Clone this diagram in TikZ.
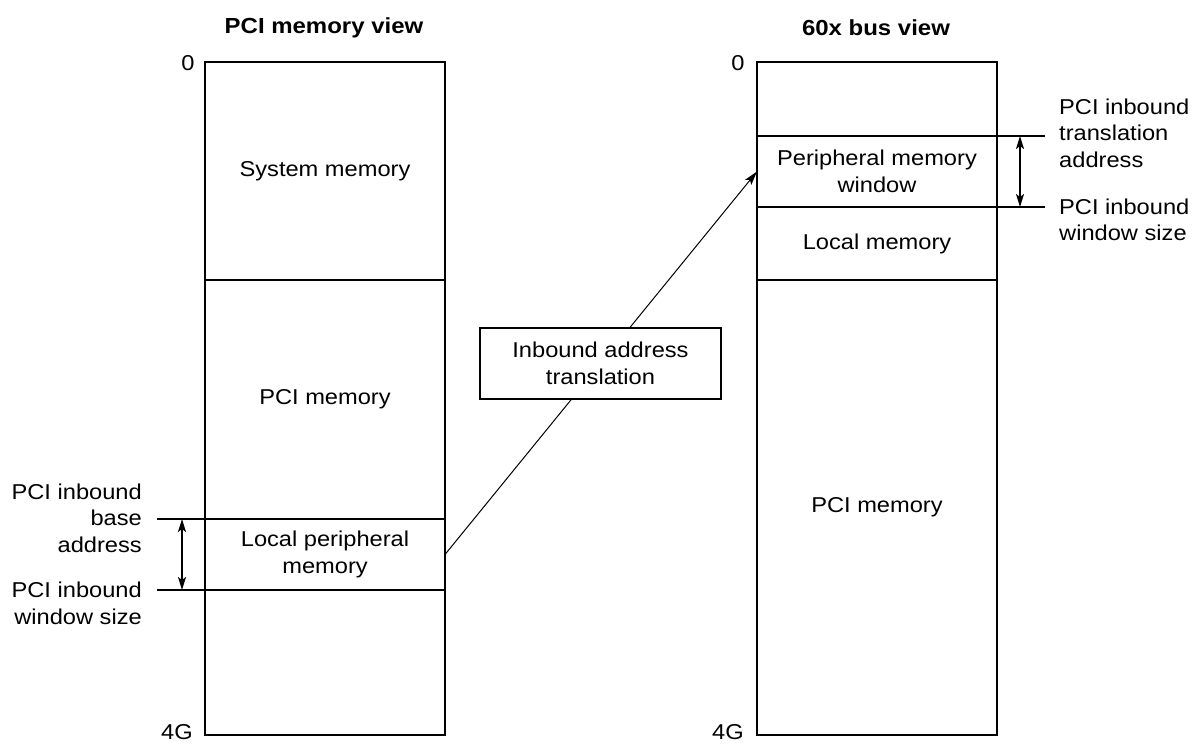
\documentclass[tikz,border=0pt]{standalone}
\usepackage{fontspec}
\setmainfont{Liberation Sans}[FakeStretch=1.1]
\usetikzlibrary{arrows.meta}
\begin{document}
\begin{tikzpicture}[x=1pt,y=-1pt,
  txt/.style={font=\fontsize{21.5}{26.5}\selectfont, inner sep=0pt, align=center},
  ttl/.style={font=\fontsize{21.8}{26.5}\selectfont\bfseries, inner sep=0pt},
  region/.style={draw, line width=2pt, minimum width=240pt, inner sep=0pt, outer sep=0pt, font=\fontsize{21.5}{26.5}\selectfont, align=center},
  tick/.style={line width=2pt},
  dbl/.style={line width=1.8pt, {Stealth[length=13pt,width=8pt,inset=3pt]}-{Stealth[length=13pt,width=8pt,inset=3pt]}},
  conn/.style={line width=1pt, -{Stealth[length=14pt,width=8pt,inset=3pt]}}
]
\useasboundingbox (0,0) rectangle (1193,744);

% titles
\node[ttl] (t1) at (324,28) {PCI memory view};
\node[ttl] (t2) at (876,28) {60x bus view};

% left column
\node[region, minimum height=218pt] (sys) at (325,171) {System memory};
\node[region, minimum height=239pt] (pci1) at (325,399.5) {PCI memory};
\node[region, minimum height=71pt] (lpm) at (325,554.5) {Local peripheral\\memory};
\node[region, minimum height=145pt] (lbot) at (325,662.5) {};

% right column
\node[region, minimum height=74pt] (rtop) at (877,99) {};
\node[region, minimum height=71pt] (pmw) at (877,171.5) {Peripheral memory\\window};
\node[region, minimum height=73pt] (lm) at (877,243.5) {Local memory};
\node[region, minimum height=455pt] (pci2) at (877,507.5) {PCI memory};

% address labels
\node[txt] (z1) at (188,63) {0};
\node[txt] (z2) at (738,63) {0};
\node[txt] (g1) at (177,732) {4G};
\node[txt] (g2) at (728,732) {4G};

% left ticks and labels
\coordinate (la) at (157,519);
\coordinate (lb) at (157,590);
\draw[tick] (la) -- (lpm.north west);
\draw[tick] (lb) -- (lpm.south west);
\coordinate (laa) at (182,519);
\coordinate (lbb) at (182,590);
\draw[dbl] (laa) -- (lbb);
\node[txt, align=right, anchor=east] (lbl1) at (142,518) {PCI inbound\\base\\address};
\node[txt, align=right, anchor=east] (lbl2) at (142,603.5) {PCI inbound\\window size};

% right ticks and labels
\coordinate (ra) at (1045,136);
\coordinate (rb) at (1045,207);
\draw[tick] (pmw.north east) -- (ra);
\draw[tick] (pmw.south east) -- (rb);
\coordinate (raa) at (1020,136);
\coordinate (rbb) at (1020,207);
\draw[dbl] (raa) -- (rbb);
\node[txt, align=left, anchor=west] (rbl1) at (1059,133) {PCI inbound\\translation\\address};
\node[txt, align=left, anchor=west] (rbl2) at (1059,220) {PCI inbound\\window size};

% connector
\draw[conn] (lpm.east) -- (pmw.west);

% translation box
\node[draw, fill=white, line width=2pt, minimum width=241pt, minimum height=71pt, inner sep=0pt,
  font=\fontsize{21.5}{26.5}\selectfont, align=center] (iat) at (600.5,363.5) {Inbound address\\translation};
\end{tikzpicture}
\end{document}
